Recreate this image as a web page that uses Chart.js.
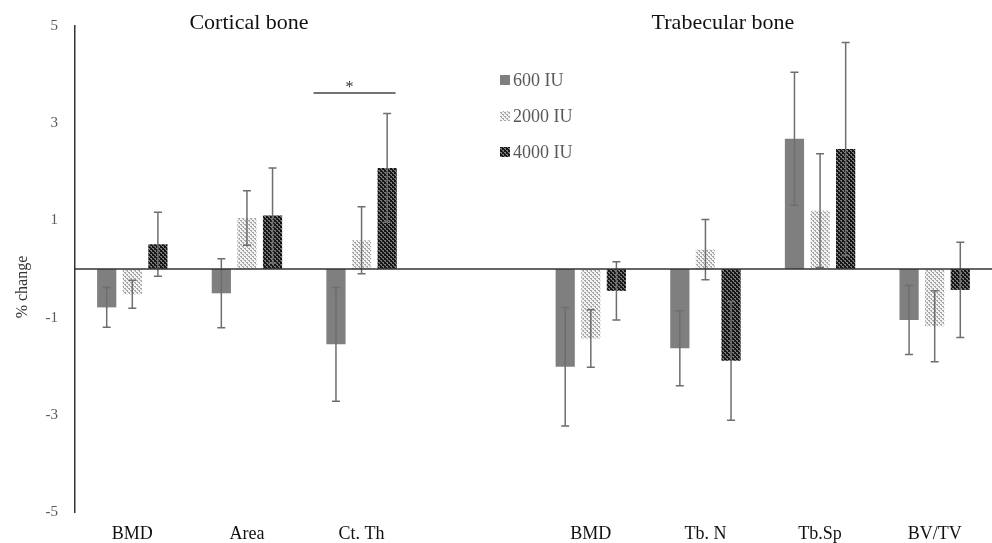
<!DOCTYPE html>
<html>
<head>
<meta charset="utf-8">
<script src="https://cdn.jsdelivr.net/npm/chart.js@4.4.1/dist/chart.umd.min.js"></script>
<style>
  html, body { margin: 0; padding: 0; background: #fff; }
  #wrap { width: 992px; height: 543px; }
</style>
</head>
<body>
<div id="wrap"><canvas id="barChart" width="992" height="543"></canvas></div>
<script>
const categories = ['BMD', 'Area', 'Ct. Th', '', 'BMD', 'Tb. N', 'Tb.Sp', 'BV/TV'];
const seriesNames = ['600 IU', '2000 IU', '4000 IU'];

const iu600 = [-0.79, -0.50, -1.55, null, -2.01, -1.63, 2.68, -1.05];
const iu600Err = [0.41, 0.71, 1.17, null, 1.22, 0.77, 1.37, 0.71];
const iu2000 = [-0.52, 1.05, 0.59, null, -1.43, 0.40, 1.20, -1.18];
const iu2000Err = [0.29, 0.56, 0.69, null, 0.59, 0.62, 1.17, 0.73];
const iu4000 = [0.51, 1.10, 2.08, null, -0.45, -1.89, 2.47, -0.43];
const iu4000Err = [0.66, 0.98, 1.12, null, 0.60, 1.22, 2.19, 0.98];

const yTicks = [-5, -3, -1, 1, 3, 5];

const FONT = "'Liberation Serif', 'Times New Roman', serif";

// petits motifs pointillés pour imiter le rendu Excel
function makePattern(bg, dot) {
    const c = document.createElement('canvas');
    c.width = 4; c.height = 4;
    const g = c.getContext('2d');
    g.fillStyle = bg;
    g.fillRect(0, 0, 4, 4);
    g.fillStyle = dot;
    g.fillRect(0, 0, 2, 1);
    g.fillRect(2, 2, 2, 1);
    g.fillRect(1, 1, 1, 1);
    g.fillRect(3, 3, 1, 1);
    return g.createPattern(c, 'repeat');
}

const fill600 = '#7f7f7f';
const fill2000 = makePattern('#f2f2f2', '#a6a6a6');
const fill4000 = makePattern('#161616', '#7a7a7a');

const errors = [iu600Err, iu2000Err, iu4000Err];

const errorBars = {
    id: 'errorBars',
    afterDatasetsDraw(chart) {
        const ctx = chart.ctx;
        const y = chart.scales.y;
        ctx.save();
        ctx.strokeStyle = '#6e6e6e';
        ctx.lineWidth = 1.5;
        chart.data.datasets.forEach((ds, i) => {
            const meta = chart.getDatasetMeta(i);
            meta.data.forEach((bar, j) => {
                const v = ds.data[j];
                const e = errors[i][j];
                if (v == null || e == null) return;
                const top = y.getPixelForValue(v + e);
                const bot = y.getPixelForValue(v - e);
                ctx.beginPath();
                ctx.moveTo(bar.x, top); ctx.lineTo(bar.x, bot);
                ctx.moveTo(bar.x - 4, top); ctx.lineTo(bar.x + 4, top);
                ctx.moveTo(bar.x - 4, bot); ctx.lineTo(bar.x + 4, bot);
                ctx.stroke();
            });
        });
        ctx.restore();
    }
};

const decorations = {
    id: 'decorations',
    afterDraw(chart) {
        const ctx = chart.ctx;
        const x = chart.scales.x;
        const y = chart.scales.y;
        const area = chart.chartArea;
        ctx.save();

        // ligne du zéro
        const y0 = y.getPixelForValue(0);
        ctx.strokeStyle = '#333';
        ctx.lineWidth = 1.5;
        ctx.beginPath();
        ctx.moveTo(area.left, y0);
        ctx.lineTo(area.right, y0);
        ctx.stroke();

        // titres des groupes
        ctx.fillStyle = '#111';
        ctx.font = '22px ' + FONT;
        ctx.textAlign = 'center';
        ctx.textBaseline = 'middle';
        ctx.fillText('Cortical bone', 249, 23);
        ctx.fillText('Trabecular bone', 723, 23);

        // titre axe y
        ctx.save();
        ctx.translate(23, 287);
        ctx.rotate(-Math.PI / 2);
        ctx.font = '16px ' + FONT;
        ctx.fillStyle = '#333';
        ctx.fillText('% change', 0, 0);
        ctx.restore();

        // barre de significativité sur Ct. Th
        const cx = x.getPixelForValue(2);
        ctx.strokeStyle = '#444';
        ctx.lineWidth = 1.5;
        ctx.beginPath();
        ctx.moveTo(cx - 48, 93);
        ctx.lineTo(cx + 34, 93);
        ctx.stroke();
        ctx.fillStyle = '#333';
        ctx.font = '16px ' + FONT;
        ctx.fillText('*', cx - 12, 88);

        // légende
        const fills = [fill600, fill2000, fill4000];
        const ly = [80, 116, 152];
        ctx.font = '18px ' + FONT;
        ctx.textAlign = 'left';
        chart.data.datasets.forEach((ds, i) => {
            ctx.fillStyle = fills[i];
            ctx.fillRect(500, ly[i] - 5, 10, 10);
            ctx.fillStyle = '#595959';
            ctx.fillText(ds.label, 513, ly[i] + 1);
        });
        ctx.restore();
    }
};

new Chart(document.getElementById('barChart'), {
    type: 'bar',
    data: {
        labels: categories,
        datasets: [
            { label: seriesNames[0], data: iu600, backgroundColor: fill600 },
            { label: seriesNames[1], data: iu2000, backgroundColor: fill2000 },
            { label: seriesNames[2], data: iu4000, backgroundColor: fill4000 }
        ]
    },
    options: {
        responsive: false,
        animation: false,
        devicePixelRatio: 1,
        categoryPercentage: 0.67,
        barPercentage: 0.75,
        layout: { padding: { top: 25, right: 0, left: 0, bottom: 0 } },
        plugins: {
            legend: { display: false },
            tooltip: { enabled: false }
        },
        scales: {
            x: {
                grid: { display: false, drawTicks: false },
                border: { display: false },
                ticks: { padding: 11, color: '#111', font: { family: FONT, size: 18 } },
                afterFit: s => { s.height = 31; }
            },
            y: {
                min: -5,
                max: 5,
                grid: { display: false, drawTicks: false },
                border: { display: true, color: '#333', width: 1.5 },
                ticks: { padding: 17, color: '#595959', font: { family: FONT, size: 15 } },
                afterBuildTicks: s => { s.ticks = yTicks.map(v => ({ value: v })); },
                afterFit: s => { s.width = 75; }
            }
        }
    },
    plugins: [errorBars, decorations]
});
</script>
</body>
</html>
